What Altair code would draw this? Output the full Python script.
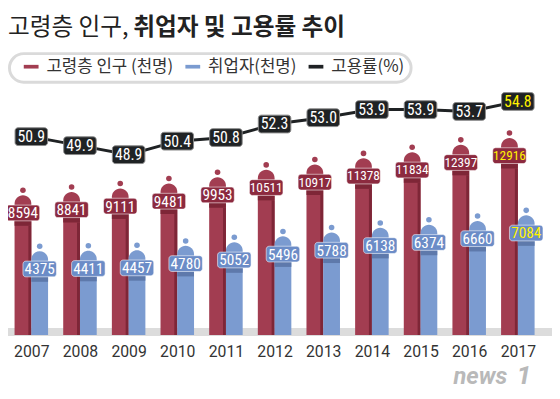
import altair as alt
import pandas as pd

# ---------------- data ----------------
years = [2007, 2008, 2009, 2010, 2011, 2012, 2013, 2014, 2015, 2016, 2017]
pop = [8594, 8841, 9111, 9481, 9953, 10511, 10917, 11378, 11834, 12397, 12916]
emp = [4375, 4411, 4457, 4780, 5052, 5496, 5788, 6138, 6374, 6660, 7084]
rate = [50.9, 49.9, 48.9, 50.4, 50.8, 52.3, 53.0, 53.9, 53.9, 53.7, 54.8]
series_names = ["고령층 인구 (천명)", "취업자(천명)", "고용률(%)"]
title_regular = "고령층 인구,"
title_bold = "취업자 및 고용률 추이"
logo_text = "news"
logo_num = "1"

df = pd.DataFrame({"year": years, "pop": pop, "emp": emp, "rate": rate})
one = pd.DataFrame({"k": [0]})

# ---------------- style ----------------
RED = "#a23d51"
RED_DARK = "#8c2a3f"
RED_SHADE = "#7e2637"
BLUE = "#7b9bd0"
BLUE_DARK = "#6b8cc7"
BLUE_SHADE = "#5e79ab"
BLACK = "#1f2224"
HIGHLIGHT = "#fff200"
NUM_FONT = "Roboto Condensed, Liberation Sans Narrow, DejaVu Sans Condensed, Roboto, sans-serif"
KR_FONT = "Noto Sans CJK KR"


def rrect(w, h, r):
    s = w / 2.0
    hy = round(h / 2.0 / s, 4)
    ru = round(r / s, 4)
    a = round(-1 + ru, 4)
    b = round(1 - ru, 4)
    return (f"M{a},{-hy}H{b}A{ru},{ru} 0 0 1 1,{round(-hy + ru, 4)}"
            f"V{round(hy - ru, 4)}A{ru},{ru} 0 0 1 {b},{hy}"
            f"H{a}A{ru},{ru} 0 0 1 -1,{round(hy - ru, 4)}"
            f"V{round(-hy + ru, 4)}A{ru},{ru} 0 0 1 {a},{-hy}Z")


BASE_VAL = -1938
xenc = alt.X(
    "year:Q",
    scale=alt.Scale(domain=[2006.622, 2017.378], nice=False, zero=False),
    axis=alt.Axis(values=years, format="d", domain=False, ticks=False, grid=False,
                  labelFontSize=16, labelColor="#333333", labelPadding=9,
                  labelFont="Roboto", title=None, labelFlush=False),
)
yA = alt.Scale(domain=[BASE_VAL, 22496], nice=False, zero=False)
yB = alt.Scale(domain=[28.9, 64.86], nice=False, zero=False)

color_scale = alt.Scale(domain=series_names, range=[RED, BLUE, BLACK])
legend = alt.Legend(
    title=None, orient="none", legendX=15, legendY=48, direction="horizontal",
    symbolType="M-1,-0.25H1V0.25H-1Z", symbolSize=225, symbolStrokeWidth=0,
    symbolOpacity=1, labelFontSize=17, labelFont=KR_FONT, labelColor="#333333",
    labelOffset=7, columnPadding=11, padding=0,
)

base = alt.Chart(df)

band = alt.Chart(one).mark_rect(color="#dcdcdc").encode(
    x=alt.value(0), x2=alt.value(552), y=alt.value(322), y2=alt.value(330))

pill = alt.Chart(one).mark_rect(fill="white", stroke="#dadada", strokeWidth=3,
                                cornerRadius=15).encode(
    x=alt.value(1.5), x2=alt.value(409), y=alt.value(43.5), y2=alt.value(72.5))

title1 = alt.Chart(one).mark_text(text=title_regular, font=KR_FONT, fontSize=24,
                                  align="left", baseline="middle", color="#222222").encode(
    x=alt.value(0), y=alt.value(18))
title2 = alt.Chart(one).mark_text(text=title_bold, font=KR_FONT, fontSize=24, fontWeight="bold",
                                  align="left", baseline="middle", color="#222222").encode(
    x=alt.value(127), y=alt.value(18))

logo1 = alt.Chart(one).mark_text(text=logo_text, font="Roboto", fontSize=24, fontWeight="bold",
                                 fontStyle="italic", align="left", baseline="alphabetic",
                                 color="#b9b9b9").encode(x=alt.value(452), y=alt.value(379))
logo2 = alt.Chart(one).mark_text(text=logo_num, font="Roboto", fontSize=27, fontWeight="bold",
                                 fontStyle="italic", align="left", baseline="alphabetic",
                                 color="#b9b9b9").encode(x=alt.value(516), y=alt.value(379))


def bar_layers(field, off, col, dark, shade, name, strip):
    y = alt.Y(f"{field}:Q", scale=yA, axis=None)
    y2 = alt.Y2(datum=BASE_VAL)
    layers = []
    layers.append(
        base.transform_calculate(series=f'"{name}"')
        .mark_bar(size=17, xOffset=off, cornerRadiusTopLeft=8.5, cornerRadiusTopRight=8.5)
        .encode(x=xenc, y=y, y2=y2,
                color=alt.Color("series:N", scale=color_scale, legend=legend))
    )
    if strip:
        layers.append(base.mark_bar(size=3, xOffset=off + 7, yOffset=31, color=shade)
                      .encode(x=xenc, y=y, y2=y2))
    layers.append(base.mark_circle(size=32, xOffset=off, yOffset=-5, color=col, opacity=1)
                  .encode(x=xenc, y=y))
    layers.append(base.mark_tick(orient="horizontal", size=17, thickness=5, xOffset=off,
                                 yOffset=28.5, color=shade, opacity=1)
                  .encode(x=xenc, y=y))
    layers.append(base.mark_point(shape=rrect(34, 16, 3), size=34 * 34, filled=True, fill=dark,
                                  stroke="white", strokeWidth=1, strokeOpacity=0.55,
                                  opacity=1, xOffset=off, yOffset=18)
                  .encode(x=xenc, y=y))
    layers.append(
        base.transform_calculate(fs=f"datum.{field} >= 10000 ? 13.5 : 15.5")
        .mark_text(font=NUM_FONT, baseline="middle", align="center", xOffset=off, yOffset=18.5)
        .encode(x=xenc, y=y, text=alt.Text(f"{field}:Q", format="d"),
                size=alt.Size("fs:Q", scale=None),
                color=alt.condition("datum.year == 2017", alt.value(HIGHLIGHT), alt.value("white")))
    )
    return layers


red_layers = bar_layers("pop", -8.5, RED, RED_DARK, RED_SHADE, series_names[0], True)
blue_layers = bar_layers("emp", 8.5, BLUE, BLUE_DARK, BLUE_SHADE, series_names[1], False)

yr = alt.Y("rate:Q", scale=yB, axis=None)
line = base.mark_line(color=BLACK, strokeWidth=3).encode(x=xenc, y=yr)
line_box = base.mark_point(shape=rrect(33, 18, 3), size=33 * 33, filled=True, fill=BLACK,
                           stroke="#8a8a8a", strokeWidth=1, opacity=1).encode(x=xenc, y=yr)
line_text = base.mark_text(font=NUM_FONT, fontSize=16, baseline="middle", align="center",
                           yOffset=0.5).encode(
    x=xenc, y=yr, text=alt.Text("rate:Q", format=".1f"),
    color=alt.condition("datum.year == 2017", alt.value(HIGHLIGHT), alt.value("white")))

chart = alt.layer(
    band, pill, title1, title2, logo1, logo2,
    *red_layers, *blue_layers, line, line_box, line_text,
).resolve_scale(y="independent").properties(
    width=541, height=329,
    autosize=alt.AutoSizeParams(type="none"),
    padding={"left": 0, "top": 0, "right": 11, "bottom": 54},
    background="white",
).configure_view(stroke=None)

chart.save("out.html", embed_options={"renderer": "svg", "actions": False})
